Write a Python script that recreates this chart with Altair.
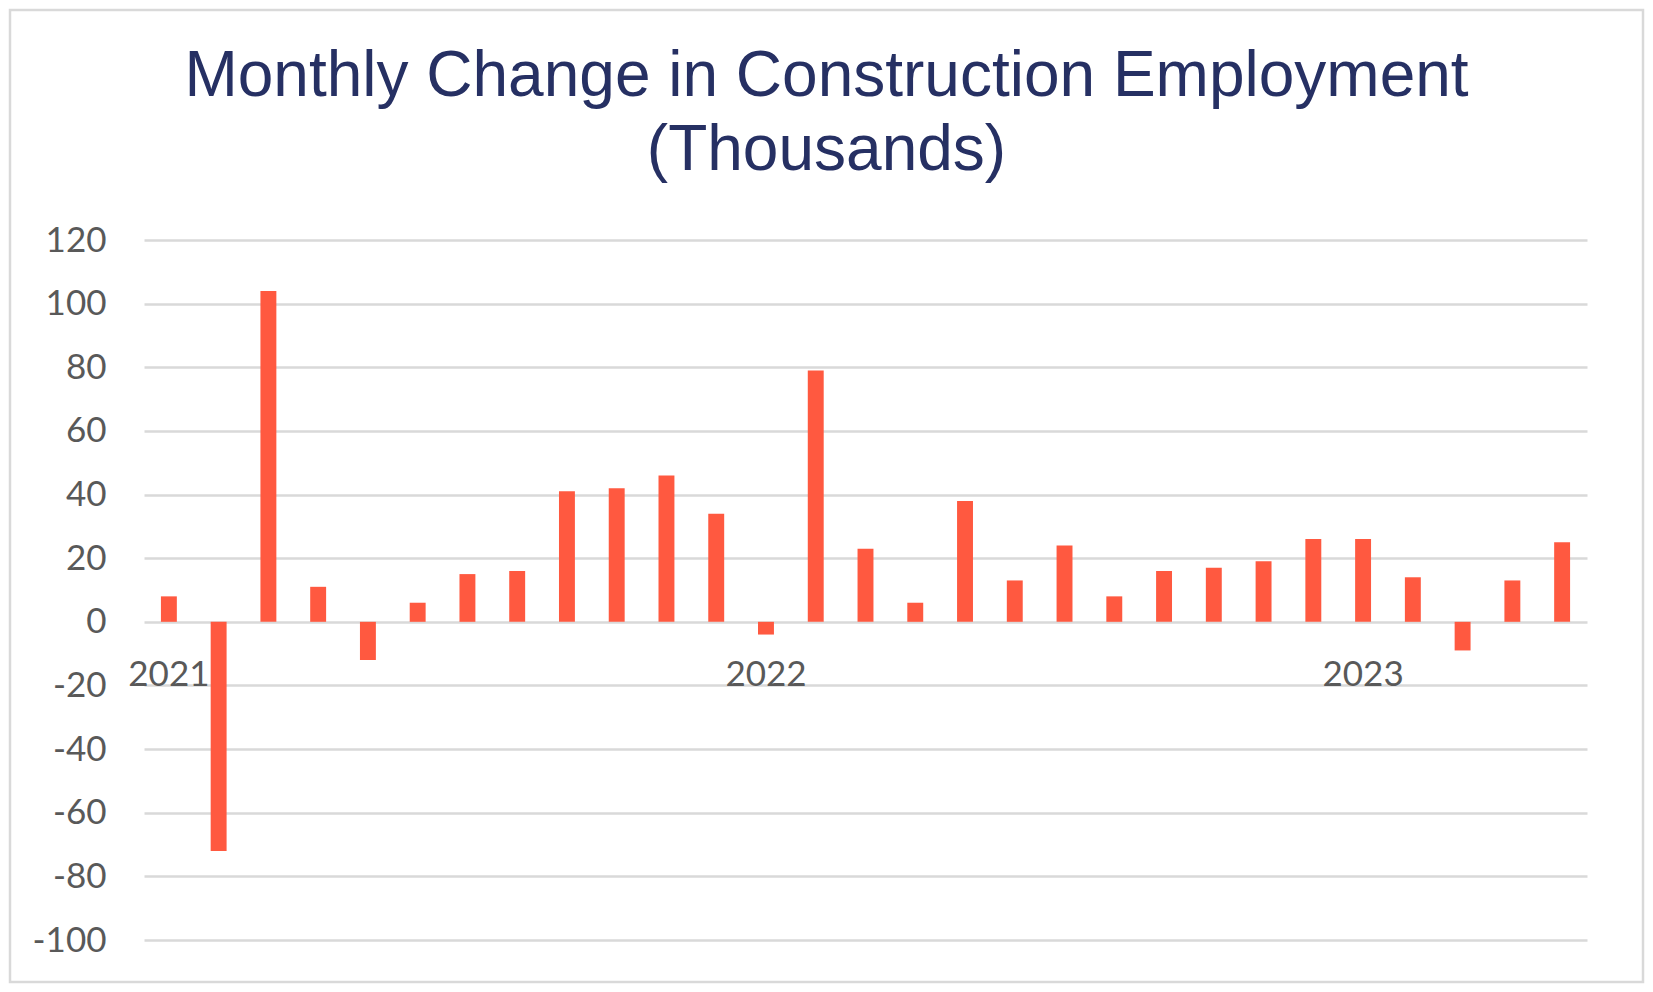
import altair as alt
import pandas as pd

months = [
    "2021-01", "2021-02", "2021-03", "2021-04", "2021-05", "2021-06",
    "2021-07", "2021-08", "2021-09", "2021-10", "2021-11", "2021-12",
    "2022-01", "2022-02", "2022-03", "2022-04", "2022-05", "2022-06",
    "2022-07", "2022-08", "2022-09", "2022-10", "2022-11", "2022-12",
    "2023-01", "2023-02", "2023-03", "2023-04", "2023-05",
]
change = [8, -72, 104, 11, -12, 6, 15, 16, 41, 42, 46, 34,
          -4, 79, 23, 6, 38, 13, 24, 8, 16, 17, 19, 26,
          26, 14, -9, 13, 25]

year_months = ["2021-01", "2022-01", "2023-01"]
year_labels = ["2021", "2022", "2023"]

y_ticks = [-100, -80, -60, -40, -20, 0, 20, 40, 60, 80, 100, 120]

df = pd.DataFrame({"month": months, "change": change})
years = pd.DataFrame({"month": year_months, "label": year_labels})

W, H = 1443, 700
gray = "#595959"

x_scale = alt.Scale(domain=months, paddingInner=0.68, paddingOuter=0.34)

bars = (
    alt.Chart(df)
    .mark_bar(color="#FF5940")
    .encode(
        x=alt.X("month:O", scale=x_scale, axis=None),
        y=alt.Y(
            "change:Q",
            scale=alt.Scale(domain=[-100, 120], nice=False),
            axis=alt.Axis(
                values=y_ticks,
                title=None,
                domain=False,
                ticks=False,
                labelFont="Lato",
                labelFontSize=35,
                labelColor=gray,
                labelPadding=38,
                labelExpr="datum.value + ''",
                gridColor="#d9d9d9",
                gridWidth=2.5,
            ),
        ),
    )
)

# year labels sit just under the zero line, like Excel's category axis
year_text = (
    alt.Chart(years)
    .mark_text(font="Lato", fontSize=35, color=gray, baseline="middle", dy=53)
    .encode(
        x=alt.X("month:O", scale=x_scale, axis=None),
        y=alt.datum(0),
        text="label:N",
    )
)

# light border round the whole picture
frame = (
    alt.Chart(pd.DataFrame({"a": [0]}))
    .mark_rect(fill="transparent", stroke="#d9d9d9", strokeWidth=2.5)
    .encode(
        x=alt.value(-134), x2=alt.value(W + 56),
        y=alt.value(-230), y2=alt.value(H + 42),
    )
)

chart = (
    alt.layer(frame, bars, year_text)
    .properties(
        width=W,
        height=H,
        autosize=alt.AutoSizeParams(type="none"),
        padding={"left": 136, "top": 232, "right": 58, "bottom": 44},
        title=alt.TitleParams(
            text=["Monthly Change in Construction Employment", "(Thousands)"],
            font="Liberation Sans",
            fontSize=64,
            fontWeight="normal",
            color="#263063",
            lineHeight=74,
            anchor="middle",
            dx=-39,
            offset=-174,
        ),
    )
    .configure(background="white")
    .configure_view(stroke="transparent", strokeWidth=0)
)

chart.save("out.html", embed_options={"renderer": "svg", "actions": False})
